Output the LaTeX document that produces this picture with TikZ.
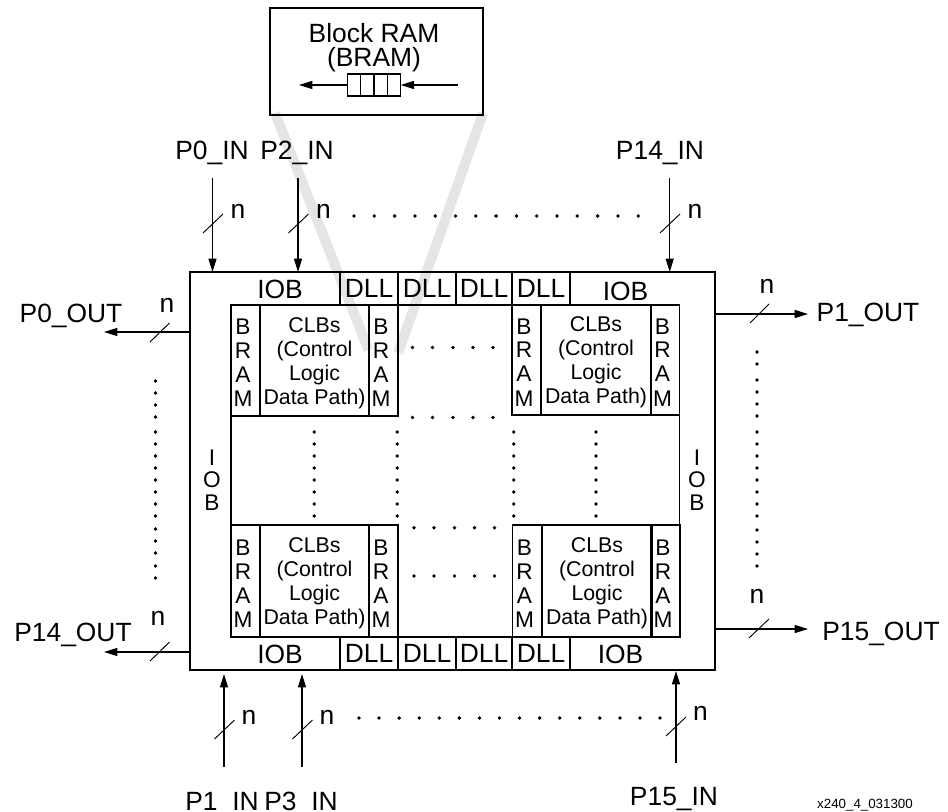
\documentclass[tikz,border=0pt]{standalone}
\usepackage{fontspec}
\setmainfont{Liberation Sans}
\usetikzlibrary{arrows.meta, positioning}

\newcommand\bramtext{\rule{0pt}{15pt}B\kern3.8pt\\R\kern3.8pt\\A\kern3.8pt\\M\kern3.8pt}
\newcommand\clbtext{\rule{0pt}{15pt}CLBs\\(Control\\Logic\\Data Path)}

\tikzset{
  pxsize/.style 2 args={minimum width=#1*0.75pt, minimum height=#2*0.75pt},
  cellbox/.style={draw, line width=1pt, inner sep=0pt, outer sep=0pt, align=center, font=\fontsize{16}{18}\selectfont},
  bramcell/.style={cellbox, font=\fontsize{17}{18}\selectfont},
  biglabel/.style={inner sep=0pt, outer sep=0pt, align=center, text depth=0pt, font=\fontsize{19.8}{18}\selectfont},
  dllcell/.style={cellbox, font=\fontsize{19.8}{18}\selectfont},
  sideiob/.style={inner sep=0pt, align=center, font=\fontsize{17}{17}\selectfont},
  busline/.style={line width=0.9pt, -{Triangle[length=10pt,width=6pt]}},
  bustick/.style={line width=0.7pt},
  zoomband/.style={line width=7.5pt, color=black!10},
}

\begin{document}
\begin{tikzpicture}[x=0.75pt,y=0.75pt,yscale=-1,xscale=1]
\useasboundingbox (0,0) rectangle (948,812);

%Shape: zoom bands
\draw [zoomband] (275,113) -- (368.5,350);
\draw [zoomband] (483,113) -- (398,353);

%Shape: Block RAM box
\node [cellbox, pxsize={213}{107}] (brambox) at (376.5,61.5) {};
\node [biglabel] (bramtitle) at (374,45) {Block RAM\\[0pt](BRAM)};
\foreach \name/\xc in {qa/354, qb/367.3, qc/380.5, qd/394} {
  \node [cellbox, pxsize={13.4}{22}] (\name) at (\xc,85) {};
}
\coordinate (qout) at (299,85);
\coordinate (qin) at (458,85);
\draw [busline] (qa.west) -- (qout);
\draw [busline] (qin) -- (qd.east);

%Shape: Outer device
\node [cellbox, pxsize={525}{398}] (device) at (452.5,471) {};

%Shape: DLL row, top and bottom
\foreach \name/\xc/\cw in {a/369/58, b/427/58, c/484/56, d/541/58} {
  \node [dllcell, pxsize={\cw}{33}] (dlltop\name) at (\xc,288.5) {DLL};
  \node [dllcell, pxsize={\cw}{33}] (dllbot\name) at (\xc,653.5) {DLL};
}

%Shape: IOB text
\node [biglabel] (iobtl) at (280,289) {IOB};
\node [biglabel] (iobtr) at (625.5,291) {IOB};
\node [biglabel] (iobbl) at (280,654) {IOB};
\node [biglabel] (iobbr) at (620.5,654) {IOB};
\node [sideiob] (iobl) at (212,480) {I\\O\\B};
\node [sideiob] (iobr) at (697,480) {I\\O\\B};

%Shape: CLB blocks
\foreach \name/\xa/\xb/\xc/\cw/\yc/\ch in {tl/245.5/314.5/383.5/109/360.5/111, tr/526.5/596/665/110/360/110, bl/245.5/314.5/383.5/109/581/112, br/527/597/665.5/110/581/112} {
  \node [bramcell, pxsize={29}{\ch}] (bram\name a) at (\xa,\yc) {\bramtext};
  \node [cellbox, pxsize={\cw}{\ch}] (clb\name) at (\xb,\yc) {\clbtext};
  \node [bramcell, pxsize={29}{\ch}] (bram\name b) at (\xc,\yc) {\bramtext};
}
%Straight Lines: inner frame
\draw [line width=1pt] (bramtla.south west) -- (brambla.north west);
\draw [line width=1pt] (bramtrb.south east) -- (bramtrb.south east |- brambrb.north east);

%Inputs, top
\coordinate (p0src) at (212.5,178);
\coordinate (p2src) at (298,178);
\coordinate (p14src) at (669.7,178);
\node [biglabel] (p0in) at (212,150) {P0\_IN};
\node [biglabel] (p2in) at (297,150) {P2\_IN};
\node [biglabel] (p14in) at (660,150) {P14\_IN};
\draw [busline] (p0src) -- (p0src |- device.north);
\draw [busline] (p2src) -- (p2src |- device.north);
\draw [busline] (p14src) -- (p14src |- device.north);
\foreach \name/\xc in {na/213, nb/298.5, nc/670} {
  \draw [bustick] (\xc-10,233) -- (\xc+10,214);
  \node [biglabel] (\name) at (\xc+25,211) {n};
}

%Inputs, bottom
\coordinate (p1src) at (224,767);
\coordinate (p1tip) at (224,674);
\coordinate (p3src) at (302,767);
\coordinate (p3tip) at (302,674);
\coordinate (p15src) at (676,763);
\coordinate (p15tip) at (676,671);
\node [biglabel, anchor=base] (p1in) at (222,810) {P1\_IN};
\node [biglabel, anchor=base] (p3in) at (301,810) {P3\_IN};
\node [biglabel, anchor=base] (p15in) at (674,805) {P15\_IN};
\draw [busline] (p1src) -- (p1tip);
\draw [busline] (p3src) -- (p3tip);
\draw [busline] (p15src) -- (p15tip);
\foreach \name/\xc/\ya/\yb/\yn in {nd/224.5/739/720/717, ne/302.5/739/720/717, nf/676/736/717/713} {
  \draw [bustick] (\xc-10,\ya) -- (\xc+10,\yb);
  \node [biglabel] (\name) at (\xc+24.5,\yn) {n};
}

%Outputs, left
\coordinate (p0tip) at (104,332);
\coordinate (p14tip) at (104,652);
\node [biglabel] (p0out) at (71,313) {P0\_OUT};
\node [biglabel] (p14out) at (73,632) {P14\_OUT};
\draw [busline] (device.west |- p0tip) -- (p0tip);
\draw [busline] (device.west |- p14tip) -- (p14tip);
\draw [bustick] (150,342) -- (169.5,323);
\draw [bustick] (150,661) -- (169.5,642);
\node [biglabel] (ng) at (167,305) {n};
\node [biglabel] (nh) at (158,618) {n};

%Outputs, right
\coordinate (p1otip) at (808,314);
\coordinate (p15otip) at (808,629);
\node [biglabel] (p1out) at (868,312) {P1\_OUT};
\node [biglabel] (p15out) at (881,631) {P15\_OUT};
\draw [busline] (device.east |- p1otip) -- (p1otip);
\draw [busline] (device.east |- p15otip) -- (p15otip);
\draw [bustick] (750,323) -- (769,304);
\draw [bustick] (749,638) -- (769,619);
\node [biglabel] (ni) at (767,286) {n};
\node [biglabel] (nj) at (757,596) {n};

%Dots: ports
\foreach \i in {0,...,14} \fill (354+20.3*\i,216) circle (1.9);
\foreach \i in {0,...,15} \fill (359+20.07*\i,718) circle (1.9);
\foreach \yc in {381,393,405,417,432,444,456,468,480,492,504,516,529,541,553,566,578} \fill (155.5,\yc) circle (1.9);
\foreach \yc in {352,364,380,392,404,416,432,444,456,468,480,492,504,516,530,542,554,566} \fill (757,\yc) circle (1.9);

%Dots: inside
\foreach \xc in {314.3,397.3,513.7,596} {
  \foreach \yc in {432,444,...,516} \fill (\xc,\yc) circle (1.9);
}
\foreach \xc in {412.5,432.5,453,473,493} {
  \fill (\xc,347.5) circle (1.9);
  \fill (\xc,417.5) circle (1.9);
  \fill (\xc+1.5,527.7) circle (1.9);
  \fill (\xc+1.5,576) circle (1.9);
}

% Text Node
\node [inner sep=0pt, font=\fontsize{10}{12}\selectfont] (figid) at (865,805) {x240\_4\_031300};

\end{tikzpicture}
\end{document}
